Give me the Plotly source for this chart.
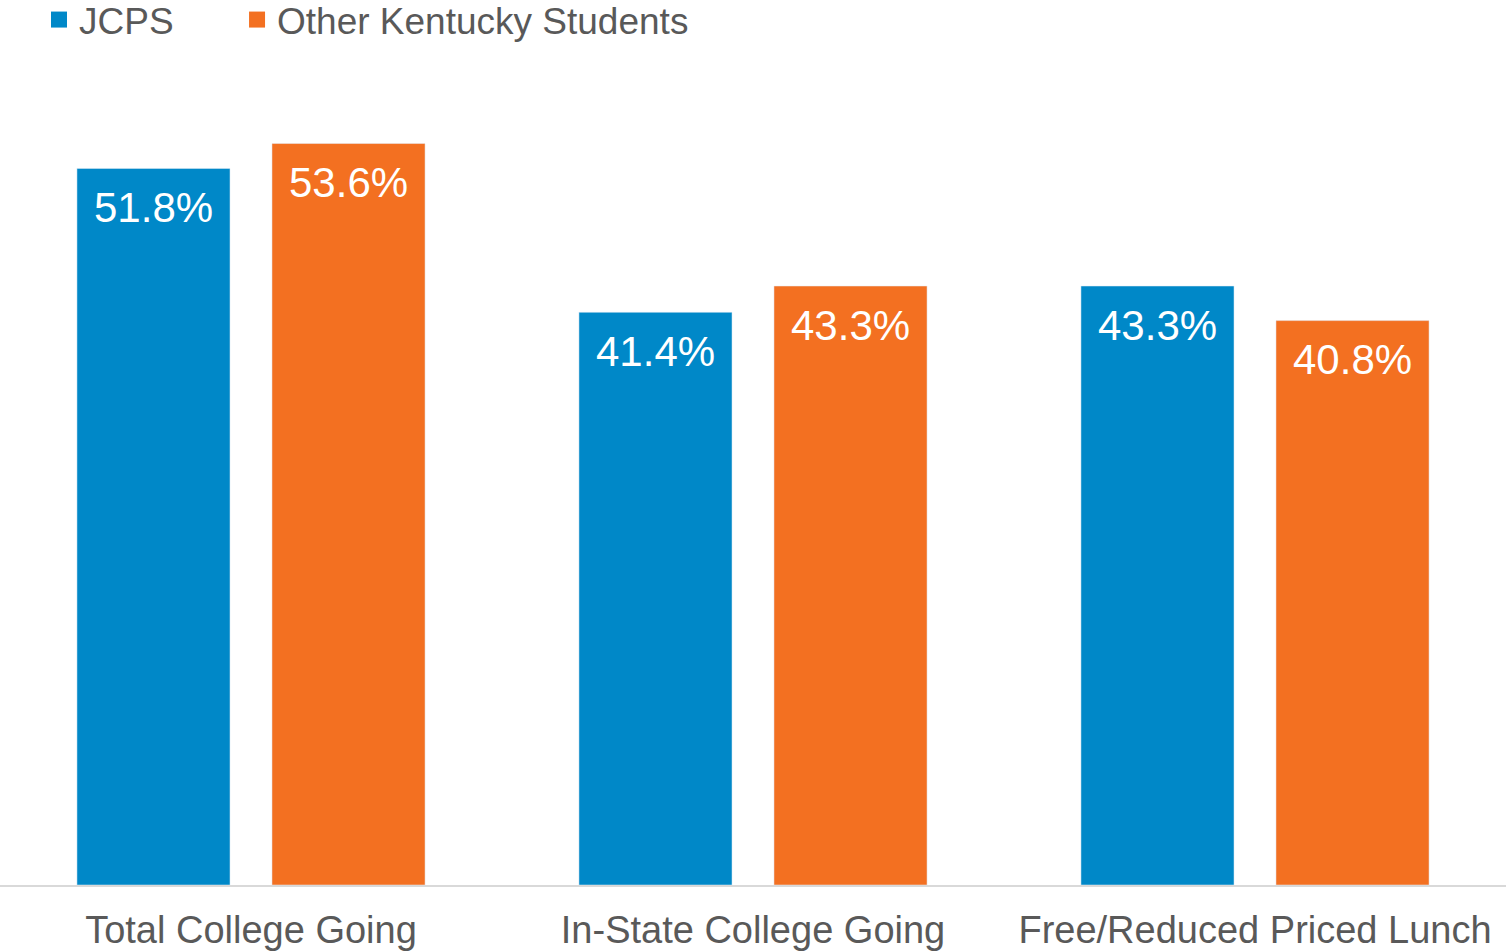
import plotly.graph_objects as go

categories = ["Total College Going", "In-State College Going", "Free/Reduced Priced Lunch"]
jcps = [51.8, 41.4, 43.3]
other_ky = [53.6, 43.3, 40.8]
series_names = ["JCPS", "Other Kentucky Students"]
colors = ["#0088C8", "#F37021"]

FONT = "Liberation Sans, Arial, sans-serif"
SLOT_PX = 97.5  # half of a grouped bar slot, for centring value labels

fig = go.Figure()
for name, vals, col in zip(series_names, [jcps, other_ky], colors):
    fig.add_trace(go.Bar(
        x=categories, y=vals, name=name, marker_color=col, showlegend=False,
        hoverinfo="x+y",
    ))
# legend entries with larger square markers
for i, (name, col) in enumerate(zip(series_names, colors)):
    fig.add_trace(go.Scatter(
        x=[None], y=[None], mode="markers", name=name,
        marker=dict(symbol="square", size=16, color=col),
        legend="legend" if i == 0 else "legend2",
    ))

# value labels inside top of each bar
for k, (vals, sign) in enumerate(zip([jcps, other_ky], [-1, 1])):
    for cat, v in zip(categories, vals):
        fig.add_annotation(
            x=cat, y=v, xref="x", yref="y", text=f"{v:.1f}%",
            showarrow=False, xshift=sign * SLOT_PX, yshift=-39,
            yanchor="middle", xanchor="center",
            font=dict(color="white", size=42, family=FONT),
        )

legend_common = dict(
    orientation="h", xanchor="left", yanchor="top", yref="paper",
    font=dict(size=37, color="#595959", family=FONT),
    bgcolor="rgba(0,0,0,0)", itemclick=False, itemdoubleclick=False,
)

fig.update_layout(
    width=1506, height=951,
    margin=dict(l=0, r=0, t=55, b=66, autoexpand=False),
    paper_bgcolor="white", plot_bgcolor="white",
    barmode="group", bargap=0.223, bargroupgap=0.215,
    font=dict(family=FONT, color="#595959"),
    legend=dict(x=0.0259, y=1.0795, **legend_common),
    legend2=dict(x=0.1574, y=1.0795, **legend_common),
    xaxis=dict(
        showline=True, linecolor="#D9D9D9", linewidth=2, showgrid=False,
        tickfont=dict(size=38, color="#595959", family=FONT),
        ticks="", ticklabelstandoff=10, zeroline=False, automargin=False,
    ),
    yaxis=dict(range=[0, 60], visible=False, showgrid=False, zeroline=False,
               automargin=False),
)

fig.write_html(
    "out.html",
    config={"displayModeBar": False},
    post_script="document.body.style.margin='0';document.body.style.overflow='hidden';",
)
